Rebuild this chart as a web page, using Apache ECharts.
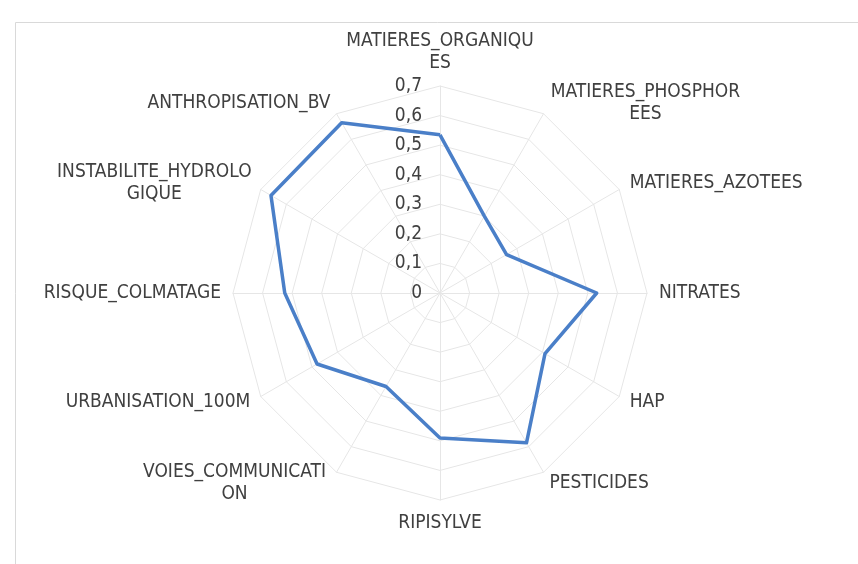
<!DOCTYPE html>
<html>
<head>
<meta charset="utf-8">
<script src="https://cdn.jsdelivr.net/npm/echarts@6/dist/echarts.min.js"></script>
<style>
  html, body { margin: 0; padding: 0; background: #fff; }
  #radarChart { width: 858px; height: 564px; }
</style>
</head>
<body>
<div id="radarChart"></div>
<script>
// indicateurs (dans le sens horaire depuis le haut)
var indicators = [
  'MATIERES_ORGANIQU\nES',
  'MATIERES_PHOSPHOR\nEES',
  'MATIERES_AZOTEES',
  'NITRATES',
  'HAP',
  'PESTICIDES',
  'RIPISYLVE',
  'VOIES_COMMUNICATI\nON',
  'URBANISATION_100M',
  'RISQUE_COLMATAGE',
  'INSTABILITE_HYDROLO\nGIQUE',
  'ANTHROPISATION_BV'
]
var values = [0.535, 0.30, 0.26, 0.53, 0.41, 0.585, 0.49, 0.365, 0.48, 0.525, 0.66, 0.665]
var axisMin = 0
var axisMax = 0.7
var splitCount = 7

var fontFamily = '"Liberation Sans Narrow", "DejaVu Sans Condensed", sans-serif'
var textColor = '#404040'

// echarts place les axes dans le sens anti-horaire : on inverse l'ordre (sauf le premier)
var order = [0]
for (var k = indicators.length - 1; k > 0; k--) order.push(k)

var chart = echarts.init(document.getElementById('radarChart'))

chart.setOption({
  animation: false,
  // cadre de la zone graphique
  graphic: [{
    type: 'rect',
    shape: { x: 15.5, y: 22.5, width: 850, height: 550 },
    style: { fill: 'none', stroke: '#d9d9d9', lineWidth: 1 }
  }],
  radar: {
    center: [440, 293],
    radius: 207,
    startAngle: 90,
    shape: 'polygon',
    splitNumber: splitCount,
    axisName: {
      color: textColor,
      fontSize: 19,
      lineHeight: 22,
      fontFamily: fontFamily,
      // libellés sur deux lignes : centrés comme dans Excel
      formatter: function (name) {
        if (name.indexOf('\n') < 0) return name
        return name.split('\n').map(function (s) { return '{w|' + s + '}' }).join('\n')
      },
      rich: {
        w: {
          width: 192,
          align: 'center',
          color: textColor,
          fontSize: 19,
          lineHeight: 22,
          fontFamily: fontFamily
        }
      }
    },
    nameGap: 12,
    axisLine: { lineStyle: { color: '#e6e6e6', width: 1 } },
    splitLine: { lineStyle: { color: '#e6e6e6', width: 1 } },
    splitArea: { show: false },
    axisTick: { show: false },
    axisLabel: { show: false },
    indicator: order.map(function (idx, i) {
      var ind = { name: indicators[idx], min: axisMin, max: axisMax }
      // graduations seulement sur le premier axe
      if (i === 0) {
        ind.axisLabel = {
          show: true,
          color: textColor,
          fontSize: 19,
          fontFamily: fontFamily,
          margin: 18,
          formatter: function (v) { return (+v).toFixed(1).replace('.0', '').replace('.', ',') }
        }
      }
      return ind
    })
  },
  series: [{
    type: 'radar',
    symbol: 'none',
    lineStyle: { color: '#4a7fc8', width: 3.5 },
    data: [{ value: order.map(function (idx) { return values[idx] }) }]
  }]
})
</script>
</body>
</html>
